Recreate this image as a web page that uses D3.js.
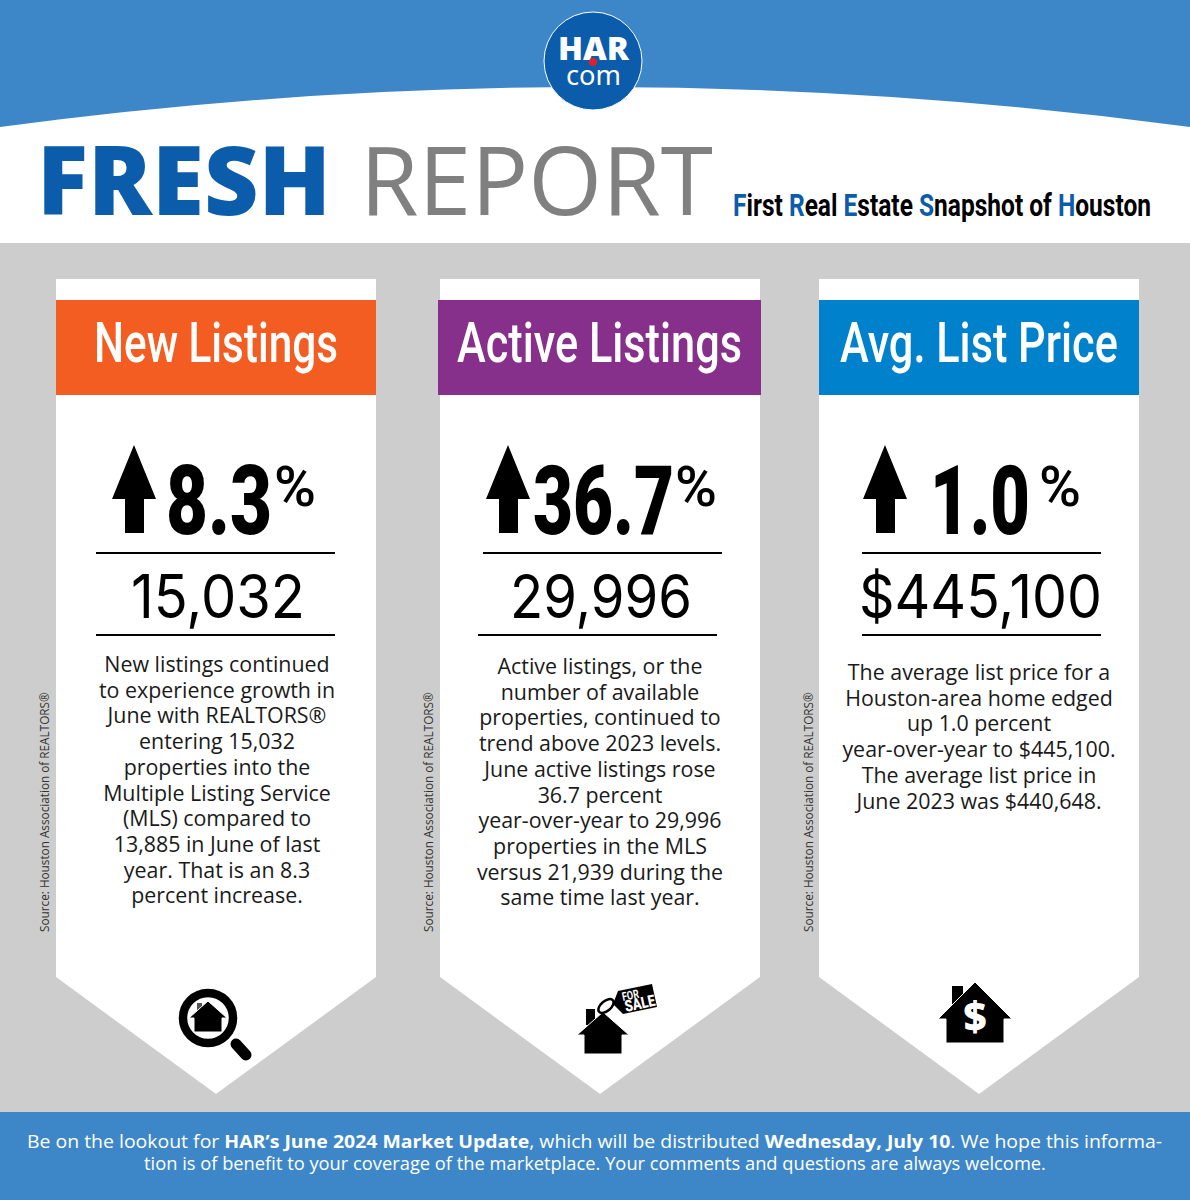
<!DOCTYPE html>
<html>
<head>
<meta charset="utf-8">
<script src="https://cdn.jsdelivr.net/npm/d3@7"></script>
<style>
  html, body { margin: 0; padding: 0; background: #fff; }
  svg { display: block; }
</style>
</head>
<body>
<svg id="chart"></svg>
<script>
// Values and text
const cardTitles = ["New Listings", "Active Listings", "Avg. List Price"];
const pctChanges = ["8.3", "36.7", "1.0"];
const metricValues = ["15,032", "29,996", "$445,100"];
const bodyNew = ["New listings continued", "to experience growth in", "June with REALTORS®", "entering 15,032", "properties into the", "Multiple Listing Service", "(MLS) compared to", "13,885 in June of last", "year. That is an 8.3", "percent increase."];
const bodyActive = ["Active listings, or the", "number of available", "properties, continued to", "trend above 2023 levels.", "June active listings rose", "36.7 percent", "year-over-year to 29,996", "properties in the MLS", "versus 21,939 during the", "same time last year."];
const bodyPrice = ["The average list price for a", "Houston-area home edged", "up 1.0 percent", "year-over-year to $445,100.", "The average list price in", "June 2023 was $440,648."];
const sourceNote = "Source: Houston Association of REALTORS®";
const tagline = ["First ", "Real ", "Estate ", "Snapshot of ", "Houston"];

// Colors
const palette = {
  blue: "#3d87c9", navy: "#0b5cab", gray: "#cdcdcd", report: "#808080",
  bands: ["#f45d22", "#86308c", "#0081cb"], ink: "#000"
};

// Layout per card
const W = 1190, H = 1200;
const cardLeft = [56, 440, 819], cardWidth = 320;
const bandLeft = [56, 438, 819], bandWidth = [320, 323, 320];
const titleWidth = [244, 285, 278];
const textCenter = [217, 600, 979];
const arrowCenter = [134, 508, 885];
const pctLeft = [166, 533, 930], pctWidth = [106, 141, 100];
const signLeft = [274, 675, 1039];
const rule1Left = [96, 483, 862], rule2Left = [96, 478, 862];
const valueLeft = [131, 510, 859], valueWidth = [174, 182, 243];
const bodyTop = [672, 674, 680];
const sourceX = [49, 433, 813];
const bodies = [bodyNew, bodyActive, bodyPrice];

const condensed = "Roboto";

const svg = d3.select("#chart").attr("width", W).attr("height", H).attr("viewBox", `0 0 ${W} ${H}`);

// Squeeze or stretch a text to an exact width (the condensed face of the original is not installed)
function fitWidth(sel, left, width) {
  const y = +sel.attr("y");
  const w = sel.node().getComputedTextLength();
  sel.attr("x", 0).attr("y", 0)
    .attr("text-anchor", "start")
    .attr("transform", `translate(${left},${y}) scale(${width / w},1)`);
  return sel;
}

function addText(parent, txt, opts) {
  return parent.append("text")
    .attr("x", opts.x || 0).attr("y", opts.y)
    .attr("fill", opts.fill || palette.ink)
    .attr("text-anchor", opts.anchor || "start")
    .style("font-family", opts.family || "'Open Sans'")
    .style("font-size", opts.size + "px")
    .style("font-weight", opts.weight || 400)
    .text(txt);
}

// Background
svg.append("rect").attr("width", W).attr("height", H).attr("fill", "#fff");
svg.append("path").attr("fill", palette.blue)
  .attr("d", `M0,0H${W}V127Q595,47 0,127Z`);
svg.append("rect").attr("y", 243).attr("width", W).attr("height", 869).attr("fill", palette.gray);
svg.append("rect").attr("y", 1112).attr("width", W).attr("height", 88).attr("fill", palette.blue);

// Logo
const logo = svg.append("g");
logo.append("circle").attr("cx", 593).attr("cy", 61).attr("r", 49)
  .attr("fill", palette.navy).attr("stroke", "#fff").attr("stroke-width", 1);
fitWidth(addText(logo, "HAR", { y: 60, size: 31, weight: 800, fill: "#fff" }), 558, 71);
fitWidth(addText(logo, "com", { y: 85, size: 28, weight: 400, fill: "#fff", family: "'Noto Sans'" }), 566, 55);
logo.append("circle").attr("cx", 593).attr("cy", 62).attr("r", 4).attr("fill", "#e0202c");

// Heading
fitWidth(addText(svg, "FRESH", { y: 215, size: 95, weight: 800, fill: palette.navy }), 37, 294);
fitWidth(addText(svg, "REPORT", { y: 215, size: 95, weight: 400, fill: palette.report }), 360, 353);

const tag = svg.append("text").attr("y", 216).attr("fill", palette.ink)
  .style("font-family", condensed).style("font-size", "32px").style("font-weight", 700);
tagline.forEach(word => {
  tag.append("tspan").attr("fill", palette.navy).text(word[0]);
  tag.append("tspan").text(word.slice(1));
});
fitWidth(tag, 733, 418);

// Cards
cardTitles.forEach((title, i) => {
  const g = svg.append("g");
  const l = cardLeft[i], r = l + cardWidth;

  g.append("path").attr("fill", "#fff")
    .attr("d", `M${l},279H${r}V977L${(l + r) / 2},1094L${l},977Z`);
  g.append("rect").attr("x", bandLeft[i]).attr("y", 300)
    .attr("width", bandWidth[i]).attr("height", 95).attr("fill", palette.bands[i]);

  fitWidth(addText(g, title, {
    y: 362, size: 56, weight: 500, fill: "#fff", family: condensed
  }), (bandLeft[i] + bandWidth[i] / 2) - titleWidth[i] / 2, titleWidth[i]);

  // Up arrow
  const a = arrowCenter[i];
  g.append("path").attr("fill", palette.ink)
    .attr("d", `M${a},445L${a + 22},499H${a + 10}V533H${a - 9}V499H${a - 22}Z`);

  fitWidth(addText(g, pctChanges[i], {
    y: 534, size: 97, weight: 900, family: condensed
  }), pctLeft[i], pctWidth[i]);
  fitWidth(addText(g, "%", {
    y: 506, size: 56, weight: 500, family: condensed
  }), signLeft[i], 42);

  g.append("rect").attr("x", rule1Left[i]).attr("y", 552).attr("width", 239).attr("height", 2).attr("fill", palette.ink);
  g.append("rect").attr("x", rule2Left[i]).attr("y", 634).attr("width", 239).attr("height", 2).attr("fill", palette.ink);

  fitWidth(addText(g, metricValues[i], {
    y: 618, size: 60, family: "Inter"
  }), valueLeft[i], valueWidth[i]);

  bodies[i].forEach((line, k) => {
    addText(g, line, {
      x: textCenter[i], y: bodyTop[i] + k * 25.7, size: 21.4, anchor: "middle", fill: "#1a1a1a"
    });
  });

  g.append("text")
    .attr("transform", `translate(${sourceX[i]},932) rotate(-90)`)
    .attr("fill", "#333")
    .style("font-family", "'Open Sans'").style("font-size", "11.75px")
    .text(sourceNote);
});

// Icons
function house(parent, tipX, tipY, halfRoof, roofH, halfBody, bodyBottom) {
  parent.append("path").attr("fill", palette.ink).attr("stroke", "#fff").attr("stroke-width", 1)
    .attr("d", `M${tipX},${tipY}L${tipX + halfRoof},${tipY + roofH}H${tipX + halfBody}V${bodyBottom}H${tipX - halfBody}V${tipY + roofH}H${tipX - halfRoof}Z`);
}

// Magnifier
const lens = svg.append("g");
lens.append("circle").attr("cx", 208).attr("cy", 1018).attr("r", 25)
  .attr("fill", "none").attr("stroke", palette.ink).attr("stroke-width", 8.5);
lens.append("line").attr("x1", 236).attr("y1", 1044).attr("x2", 246).attr("y2", 1055)
  .attr("stroke", palette.ink).attr("stroke-width", 11).attr("stroke-linecap", "round");
lens.append("rect").attr("x", 197).attr("y", 1003).attr("width", 5).attr("height", 9).attr("fill", "#555");
house(lens, 208, 1001, 19, 17, 14, 1032);

// For sale
const sale = svg.append("g");
sale.append("rect").attr("x", 586).attr("y", 1009).attr("width", 9).attr("height", 16).attr("fill", palette.ink);
house(sale, 603, 1012, 26, 23, 19, 1054);
sale.append("path").attr("fill", palette.ink).attr("d", "M618,991L652,984L657,1007L623,1014L613,1004Z");
sale.append("ellipse").attr("cx", 606).attr("cy", 1006).attr("rx", 9).attr("ry", 5)
  .attr("transform", "rotate(-40,606,1006)")
  .attr("fill", "none").attr("stroke", palette.ink).attr("stroke-width", 2.5);
addText(sale, "FOR", { y: 0, size: 12, weight: 700, fill: "#fff", family: condensed })
  .attr("transform", "translate(623,1001) rotate(-12) scale(0.75,1)");
addText(sale, "SALE", { y: 0, size: 16, weight: 900, fill: "#fff", family: condensed })
  .attr("transform", "translate(626,1012) rotate(-12) scale(0.8,1)");

// Dollar house
const dollar = svg.append("g");
dollar.append("rect").attr("x", 952).attr("y", 986).attr("width", 11).attr("height", 20).attr("fill", palette.ink);
house(dollar, 975, 982, 37, 37, 29, 1043);
addText(dollar, "$", { x: 975, y: 1031, size: 40, weight: 800, anchor: "middle", fill: "#fff" });

// Footer
const foot1 = svg.append("text").attr("y", 1148).attr("fill", "#fff")
  .style("font-family", "'Open Sans'").style("font-size", "18.4px");
foot1.append("tspan").text("Be on the lookout for ");
foot1.append("tspan").style("font-weight", 700).text("HAR’s June 2024 Market Update");
foot1.append("tspan").text(", which will be distributed ");
foot1.append("tspan").style("font-weight", 700).text("Wednesday, July 10");
foot1.append("tspan").text(". We hope this informa-");
fitWidth(foot1, 27, 1135);
const foot2 = addText(svg, "tion is of benefit to your coverage of the marketplace. Your comments and questions are always welcome.", {
  y: 1170, size: 18.4, fill: "#fff"
});
fitWidth(foot2, 144, 902);
</script>
</body>
</html>
